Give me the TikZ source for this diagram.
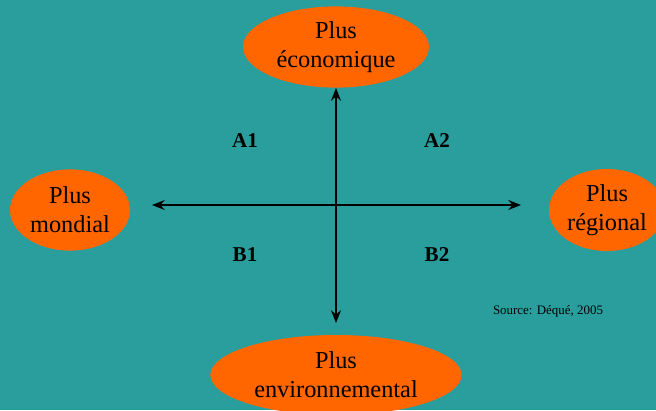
\documentclass[tikz,border=0pt]{standalone}
\usepackage{fontspec}
\setmainfont{Liberation Serif}
\usepackage{xcolor}
\usetikzlibrary{shapes.geometric,arrows.meta}
\definecolor{fond}{RGB}{42,157,157}
\definecolor{orange}{RGB}{255,102,0}
\tikzset{
  bulle/.style={ellipse, fill=orange, inner sep=0pt, align=center,
    font=\fontsize{17.3}{20.5}\selectfont},
  axe/.style={line width=1.4pt, {Stealth[length=9pt,width=7pt,inset=3pt]}-{Stealth[length=9pt,width=7pt,inset=3pt]}},
  quart/.style={font=\fontsize{15}{18}\selectfont\bfseries}
}
\begin{document}
\begin{tikzpicture}[x=0.025cm,y=-0.025cm]
    %FOND
    \fill[fond] (0,0) rectangle (656,410);
    \useasboundingbox (0,0) rectangle (656,410);
    \clip (0,0) rectangle (656,410);
    %BULLES
    \node[bulle, minimum width=4.65cm, minimum height=2.03cm] (eco) at (336,47) {Plus\\économique};
    \node[bulle, minimum width=3cm, minimum height=2.03cm] (mondial) at (70,210) {Plus\\mondial};
    \node[bulle, minimum width=2.9cm, minimum height=2.05cm] (regional) at (607,210) {Plus\\régional};
    \node[bulle, minimum width=6.28cm, minimum height=2.0cm] (env) at (336,375) {Plus\\environnemental};
    %AXES
    \coordinate (haut) at (336,88);
    \coordinate (bas) at (336,323);
    \coordinate (gauche) at (152,205);
    \coordinate (droite) at (521,205);
    \draw[axe] (gauche) -- (droite);
    \draw[axe] (bas) -- (haut);
    %SCENARIOS
    \node[quart] (a1) at (245,141) {A1};
    \node[quart] (a2) at (437,141) {A2};
    \node[quart] (b1) at (245,255) {B1};
    \node[quart] (b2) at (437,255) {B2};
    \node[font=\fontsize{9.2}{11}\selectfont] (source) at (548,311) {Source: Déqué, 2005};
\end{tikzpicture}
\end{document}
